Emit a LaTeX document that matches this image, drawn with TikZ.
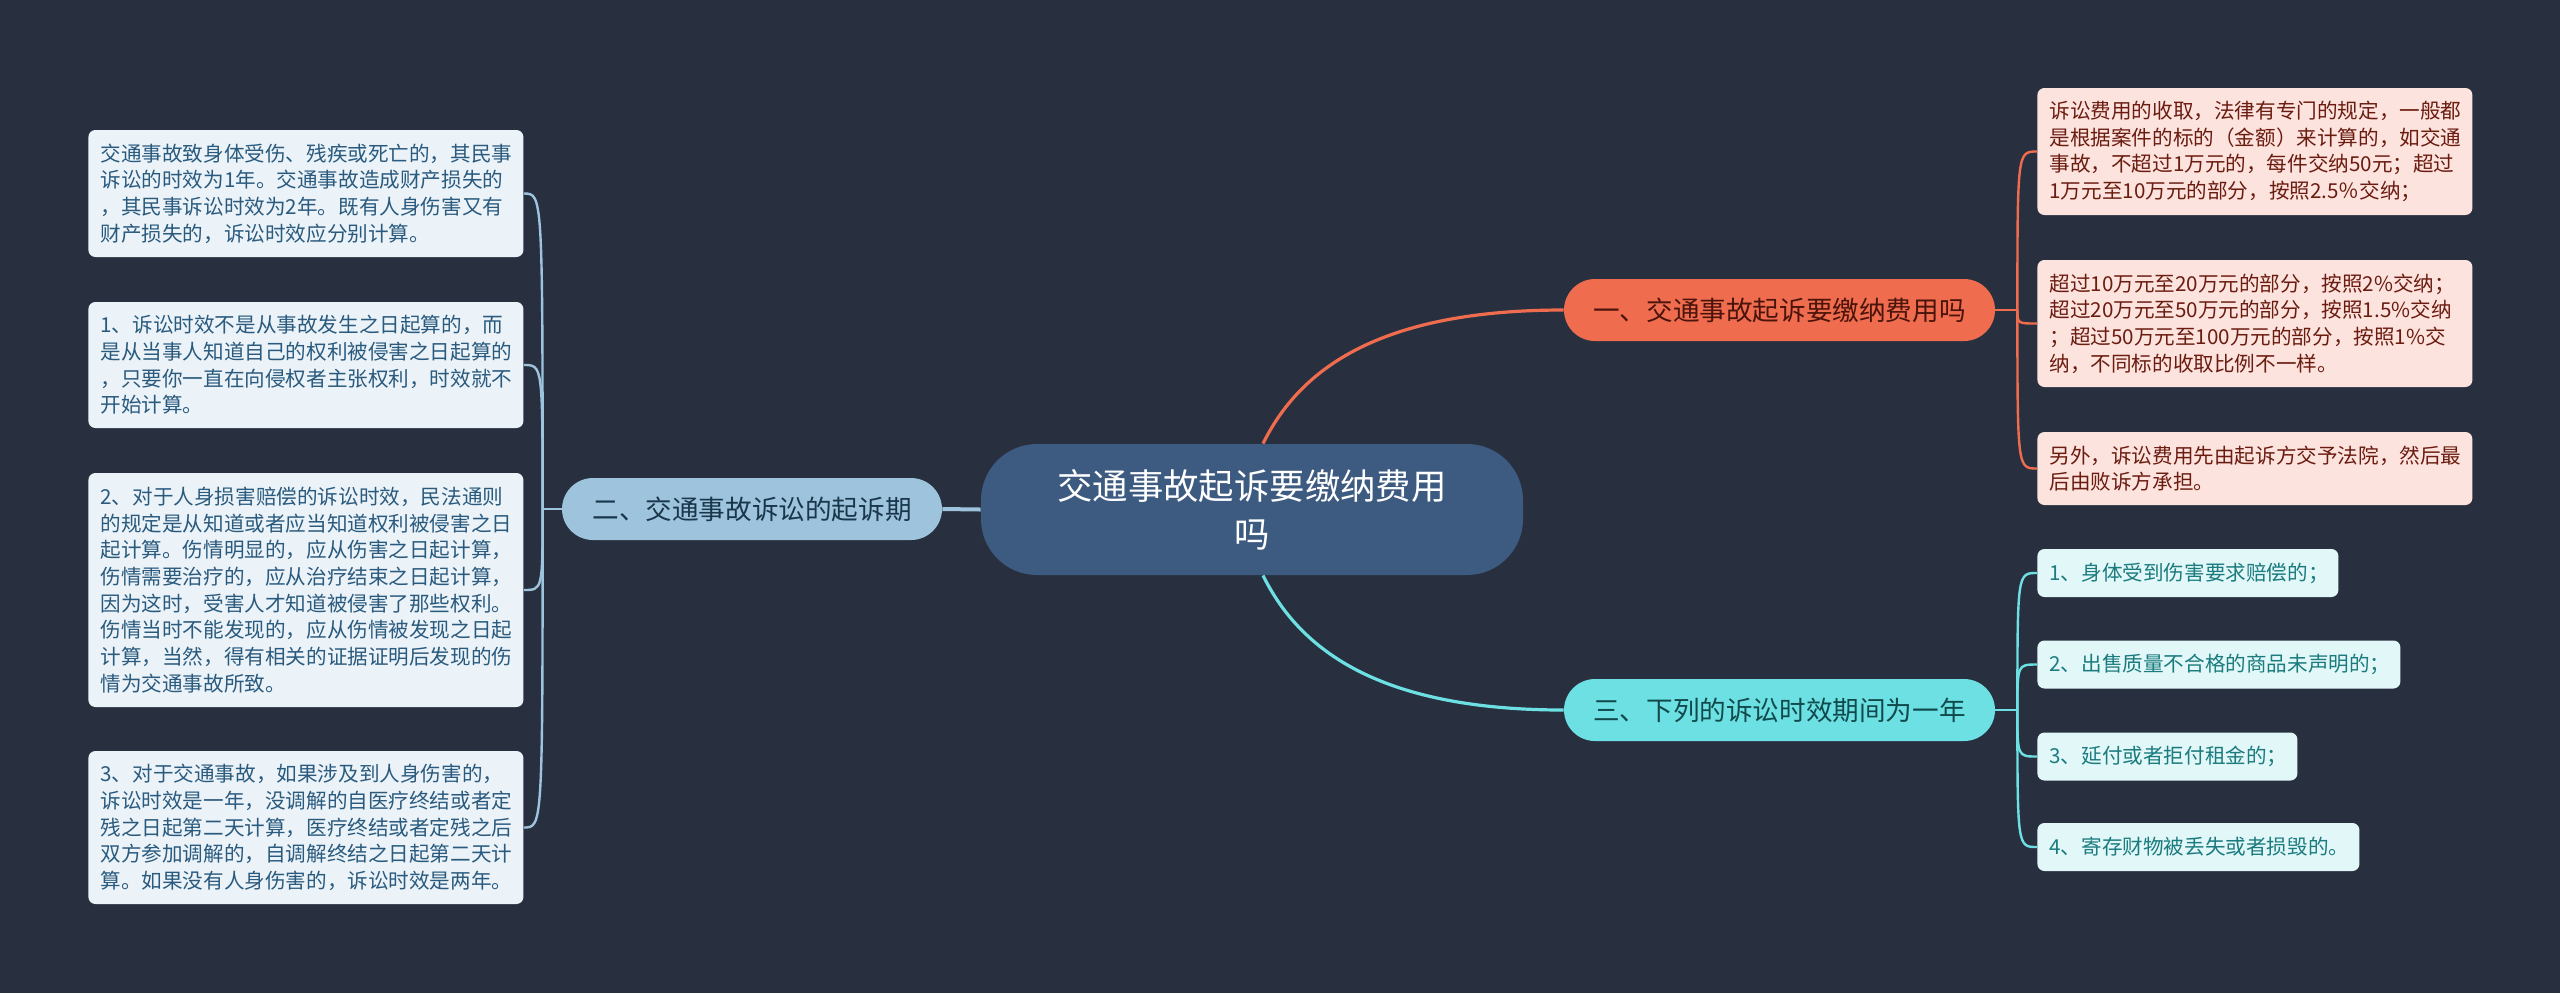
\documentclass[tikz,border=0pt]{standalone}
\usepackage{fontspec}
\setmainfont{Noto Sans CJK SC}
\definecolor{bgnavy}{HTML}{283040}
\definecolor{rootblue}{HTML}{3D5A80}
\definecolor{feeorange}{HTML}{EF6C4E}
\definecolor{periodblue}{HTML}{9DC3DD}
\definecolor{limitcyan}{HTML}{6DE0E4}
\definecolor{feeleaf}{HTML}{FDE3DE}
\definecolor{periodleaf}{HTML}{EBF3F8}
\definecolor{limitleaf}{HTML}{E1F7F8}
\definecolor{feetext}{HTML}{6B1C10}
\definecolor{periodtext}{HTML}{2A5A7E}
\definecolor{limittext}{HTML}{1B7B7E}
\tikzset{
    rootnode/.style={
           rectangle,
           rounded corners=28pt,
           fill=rootblue, text=white,
           minimum width=271pt, minimum height=65.5pt,
           align=center,
           font=\fontsize{17.7pt}{24pt}\selectfont,
           },
    topic/.style={
           rectangle,
           rounded corners=15.5pt,
           minimum height=31pt,
           inner xsep=0pt,
           font=\fontsize{13.3pt}{16pt}\selectfont,
           },
    leaf/.style={
           rectangle,
           rounded corners=3.5pt,
           anchor=west, align=left,
           inner xsep=6pt,
           font=\fontsize{10.3pt}{13.35pt}\selectfont,
           },
    feebox/.style={leaf, fill=feeleaf, text=feetext, text width=205.5pt},
    periodbox/.style={leaf, fill=periodleaf, text=periodtext, text width=205.5pt},
    limitbox/.style={leaf, fill=limitleaf, text=limittext, minimum height=24pt},
    feeline/.style={draw=feeorange, line width=1.2pt},
    periodline/.style={draw=periodblue, line width=1.2pt},
    limitline/.style={draw=limitcyan, line width=1.2pt},
}

\begin{document}
\begin{tikzpicture}[x=0.5pt, y=-0.5pt]
      \useasboundingbox (0,0) rectangle (2560,993);
      \fill[bgnavy] (0,0) rectangle (2560,993);
      % centre and the three topics
      \node[rootnode] (R) at (1252, 509.5) {交通事故起诉要缴纳费用\\吗};
      \node[topic, fill=feeorange, text=feetext!70!black, minimum width=215.5pt] (F) at (1779.5, 310) {一、交通事故起诉要缴纳费用吗};
      \node[topic, fill=periodblue, text=periodtext!60!black, minimum width=190pt] (P) at (752, 509) {二、交通事故诉讼的起诉期};
      \node[topic, fill=limitcyan, text=limittext!60!black, minimum width=215.5pt] (L) at (1779.5, 710) {三、下列的诉讼时效期间为一年};
      % left leaves
      \node[periodbox, minimum height=63.5pt] (P1) at (88, 193.5) {交通事故致身体受伤、残疾或死亡的，其民事\\诉讼的时效为1年。交通事故造成财产损失的\\，其民事诉讼时效为2年。既有人身伤害又有\\财产损失的，诉讼时效应分别计算。};
      \node[periodbox, minimum height=63pt] (P2) at (88, 365) {1、诉讼时效不是从事故发生之日起算的，而\\是从当事人知道自己的权利被侵害之日起算的\\，只要你一直在向侵权者主张权利，时效就不\\开始计算。};
      \node[periodbox, minimum height=117pt] (P3) at (88, 590) {2、对于人身损害赔偿的诉讼时效，民法通则\\的规定是从知道或者应当知道权利被侵害之日\\起计算。伤情明显的，应从伤害之日起计算，\\伤情需要治疗的，应从治疗结束之日起计算，\\因为这时，受害人才知道被侵害了那些权利。\\伤情当时不能发现的，应从伤情被发现之日起\\计算，当然，得有相关的证据证明后发现的伤\\情为交通事故所致。};
      \node[periodbox, minimum height=76.5pt] (P4) at (88, 827.5) {3、对于交通事故，如果涉及到人身伤害的，\\诉讼时效是一年，没调解的自医疗终结或者定\\残之日起第二天计算，医疗终结或者定残之后\\双方参加调解的，自调解终结之日起第二天计\\算。如果没有人身伤害的，诉讼时效是两年。};
      % right leaves, fees
      \node[feebox, minimum height=63.5pt] (F1) at (2037, 151.5) {诉讼费用的收取，法律有专门的规定，一般都\\是根据案件的标的（金额）来计算的，如交通\\事故，不超过1万元的，每件交纳50元；超过\\1万元至10万元的部分，按照2.5％交纳；};
      \node[feebox, minimum height=63.5pt] (F2) at (2037, 323.5) {超过10万元至20万元的部分，按照2\%交纳；\\超过20万元至50万元的部分，按照1.5\%交纳\\；超过50万元至100万元的部分，按照1\%交\\纳，不同标的收取比例不一样。};
      \node[feebox, minimum height=36.5pt] (F3) at (2037, 468.5) {另外，诉讼费用先由起诉方交予法院，然后最\\后由败诉方承担。};
      % right leaves, one year
      \node[limitbox, text width=138.5pt] (L1) at (2037, 573) {1、身体受到伤害要求赔偿的；};
      \node[limitbox, text width=169.5pt] (L2) at (2037, 664.5) {2、出售质量不合格的商品未声明的；};
      \node[limitbox, text width=118pt] (L3) at (2037, 756.5) {3、延付或者拒付租金的；};
      \node[limitbox, text width=149pt] (L4) at (2037, 847) {4、寄存财物被丢失或者损毁的。};
      % connectors
      \draw[feeline, line width=1.6pt] ([xshift=5.5pt]R.north) .. controls +(37,-75) and +(-184,0) .. (F.west);
      \draw[limitline, line width=1.6pt] ([xshift=5.5pt]R.south) .. controls +(37,75) and +(-184,0) .. (L.west);
      \draw[periodline, line width=2pt] (P.east) -- (R.west);
      \draw[periodline] (P.west) -- ++(-19,0) coordinate (Pj);
      \foreach \n in {P1,P2,P3,P4}
          \draw[periodline] (Pj) .. controls (Pj |- \n.east) .. (\n.east);
      \draw[feeline] (F.east) -- ++(22,0) coordinate (Fj);
      \foreach \n in {F1,F2,F3}
          \draw[feeline] (Fj) .. controls (Fj |- \n.west) .. (\n.west);
      \draw[limitline] (L.east) -- ++(22,0) coordinate (Lj);
      \foreach \n in {L1,L2,L3,L4}
          \draw[limitline] (Lj) .. controls (Lj |- \n.west) .. (\n.west);
\end{tikzpicture}
\end{document}
